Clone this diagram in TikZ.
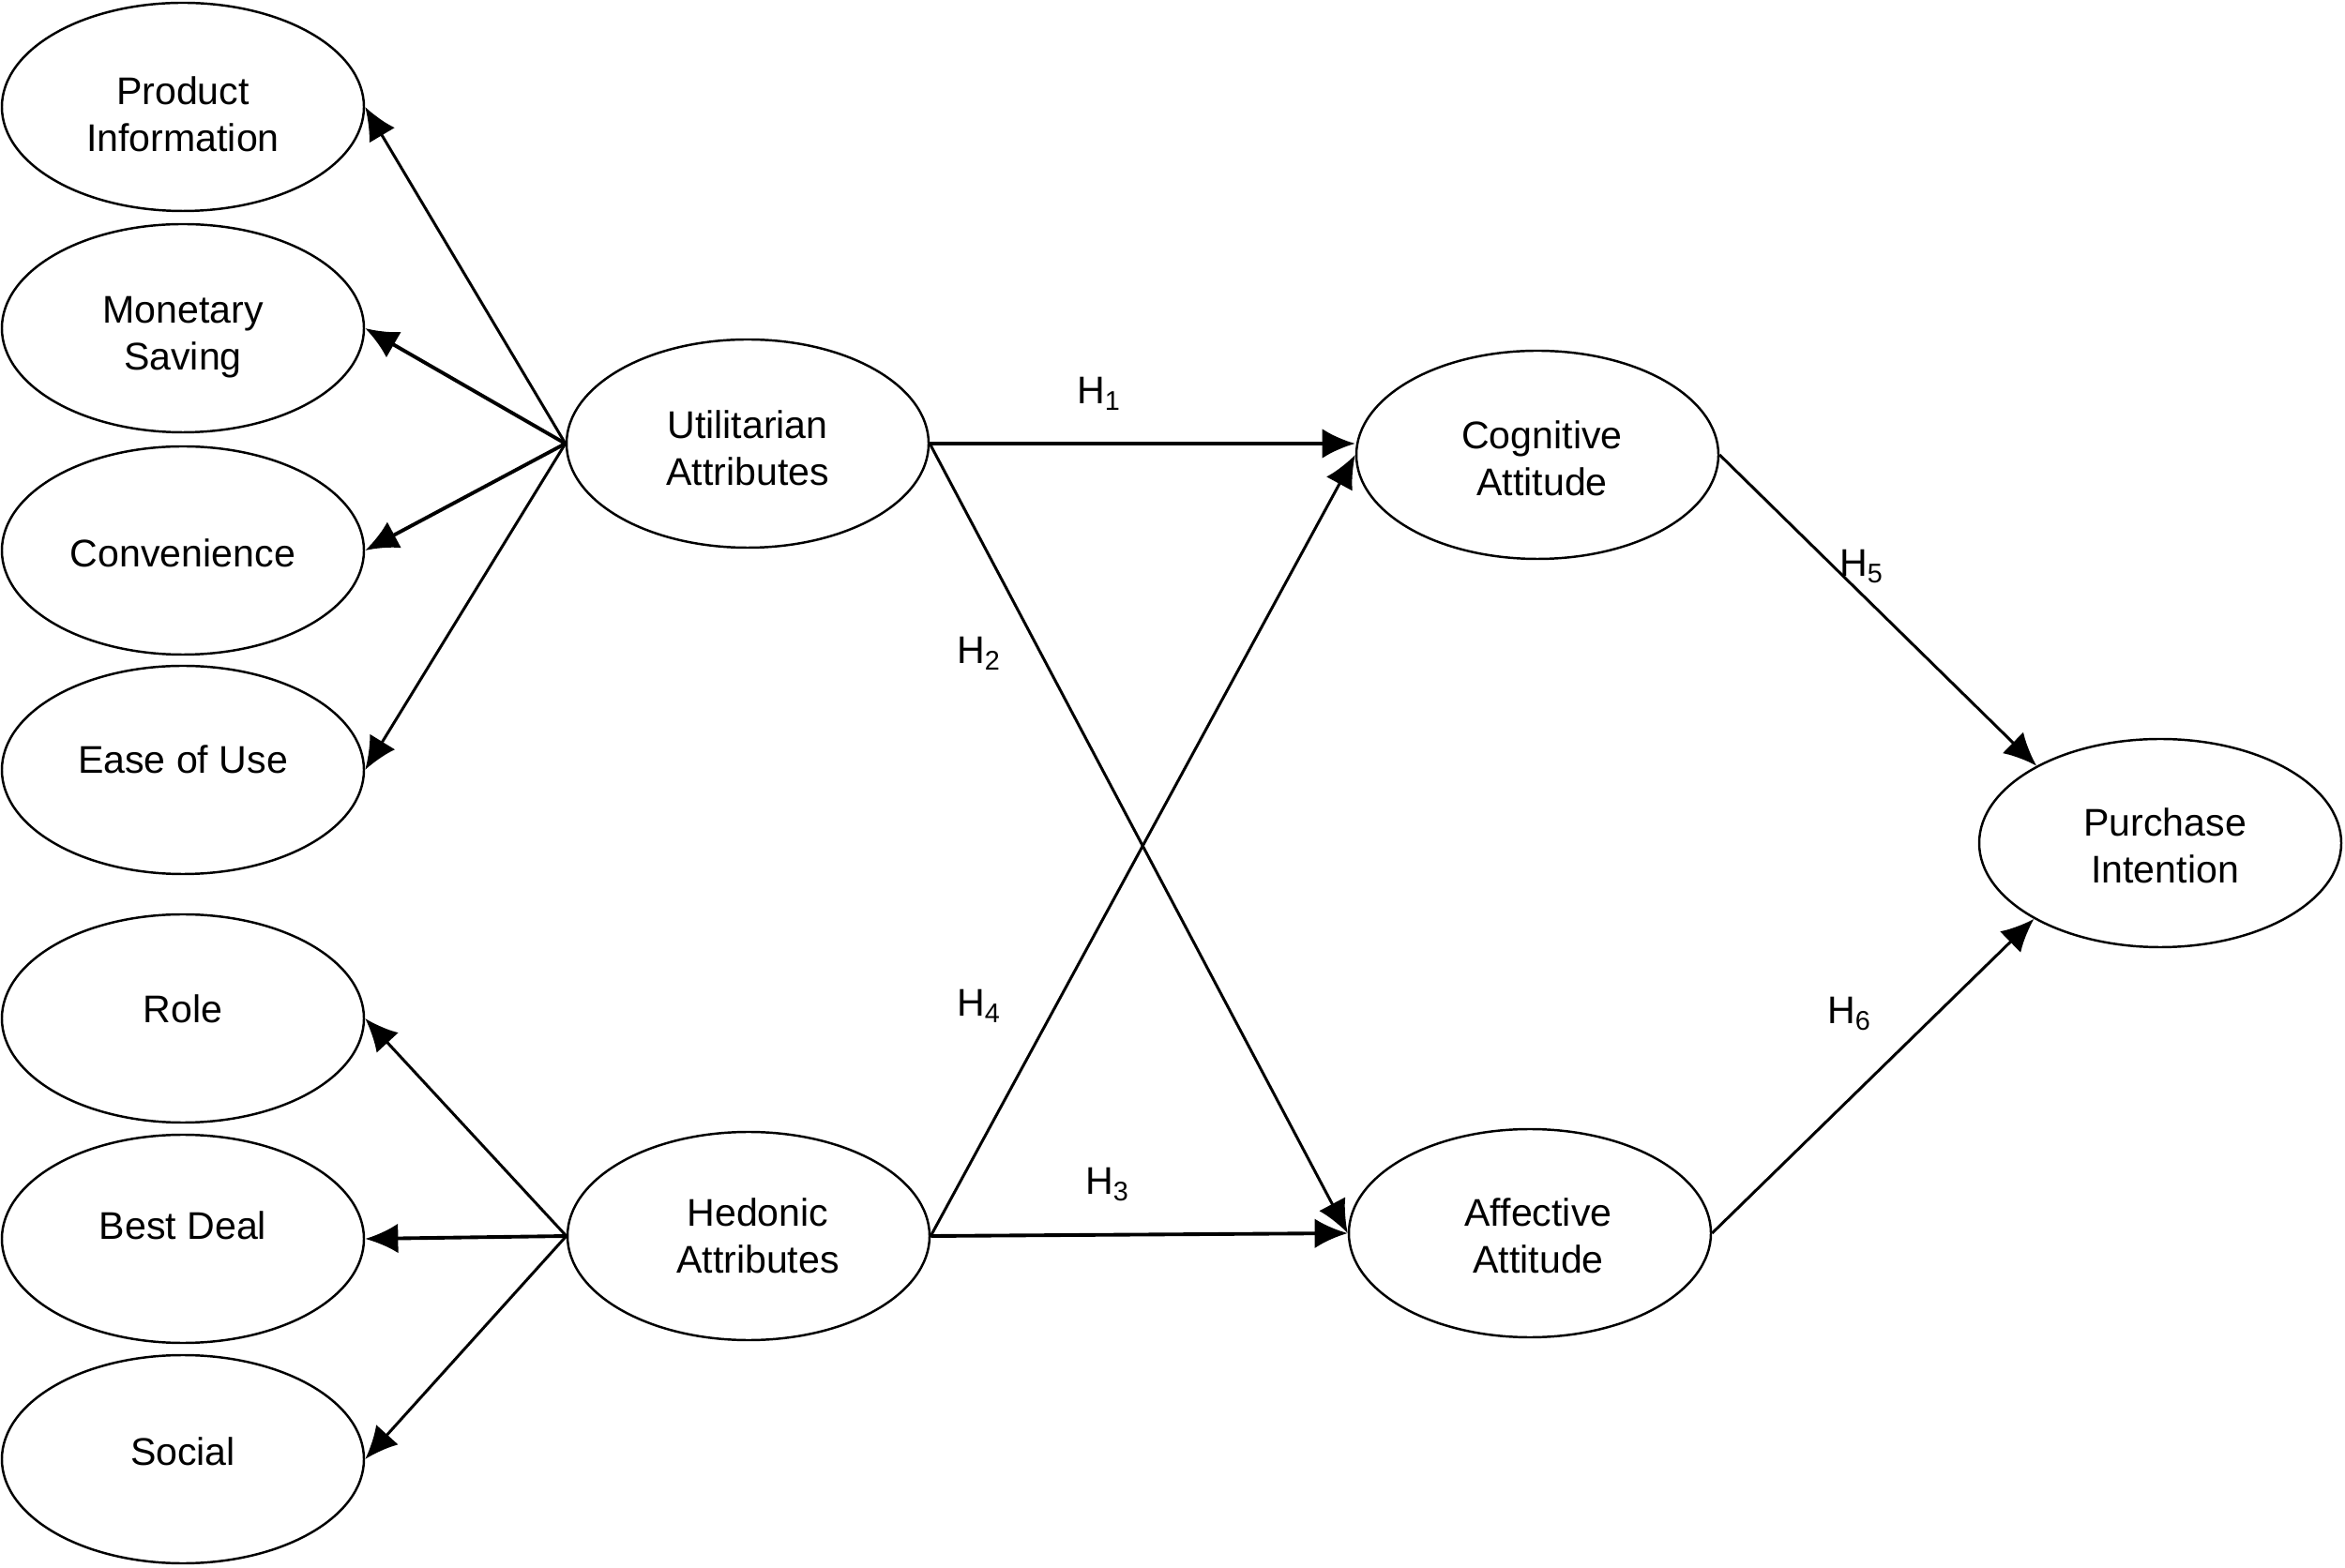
\documentclass[tikz,border=0pt]{standalone}
\usepackage{fontspec}
\setmainfont{Liberation Sans}
\usetikzlibrary{shapes.geometric,arrows.meta}
\tikzset{
  construct/.style={ellipse, draw, line width=0.7pt, minimum width=3.86cm, minimum height=2.22cm, inner sep=0pt},
  txt/.style={align=center, inner sep=0pt, font=\fontsize{11.7}{14.2}\selectfont},
  hlabel/.style={font=\fontsize{11.7}{14.2}\selectfont, inner sep=0pt},
  link/.style={line width=0.85pt, -{Latex[length=10pt,width=9pt]}},
  thicklink/.style={line width=1.1pt, -{Latex[length=10pt,width=9pt]}}
}
\begin{document}
\begin{tikzpicture}
\useasboundingbox (0,0) rectangle (25,16.71);
% left column
\node[construct] (pi) at (1.95,15.57) {};
\node[construct] (ms) at (1.95,13.21) {};
\node[construct] (cv) at (1.95,10.84) {};
\node[construct] (eu) at (1.95,8.50) {};
\node[construct] (ro) at (1.95,5.85) {};
\node[construct] (bd) at (1.95,3.50) {};
\node[construct] (so) at (1.95,1.15) {};
% middle
\node[construct] (ua) at (7.97,11.98) {};
\node[construct] (ha) at (7.98,3.53) {};
% right
\node[construct] (ca) at (16.39,11.86) {};
\node[construct] (aa) at (16.31,3.56) {};
\node[construct] (pu) at (23.03,7.72) {};
% texts
\node[txt] (piT) at ([yshift=-0.08cm]pi.center) {Product\\Information};
\node[txt] (msT) at ([yshift=-0.10cm]ms.center) {Monetary\\Saving};
\node[txt] (cvT) at ([yshift=-0.03cm]cv.center) {Convenience};
\node[txt] (euT) at ([yshift=0.11cm]eu.center) {Ease of Use};
\node[txt] (roT) at ([yshift=0.10cm]ro.center) {Role};
\node[txt] (bdT) at ([yshift=0.14cm]bd.center) {Best Deal};
\node[txt] (soT) at ([yshift=0.08cm]so.center) {Social};
\node[txt] (uaT) at ([yshift=-0.05cm]ua.center) {Utilitarian\\Attributes};
\node[txt] (haT) at ([xshift=0.10cm]ha.center) {Hedonic\\Attributes};
\node[txt] (caT) at ([xshift=0.05cm,yshift=-0.04cm]ca.center) {Cognitive\\Attitude};
\node[txt] (aaT) at ([xshift=0.09cm,yshift=-0.03cm]aa.center) {Affective\\Attitude};
\node[txt] (puT) at ([xshift=0.05cm,yshift=-0.03cm]pu.center) {Purchase\\Intention};
% formative arrows
\draw[link] (ua.west) -- (pi.east);
\draw[thicklink] (ua.west) -- (ms.east);
\draw[thicklink] (ua.west) -- (cv.east);
\draw[link] (ua.west) -- (eu.east);
\draw[link] (ha.west) -- (ro.east);
\draw[thicklink] (ha.west) -- (bd.east);
\draw[link] (ha.west) -- (so.east);
% hypotheses
\draw[thicklink] (ua.east) -- (ua.east -| ca.west);
\draw[link] (ua.east) -- (aa.west);
\draw[link] (ha.east) -- (ca.west);
\draw[thicklink] (ha.east) -- (aa.west);
\draw[link] (ca.east) -- (pu.148);
\draw[link] (aa.east) -- (pu.211);
% labels
\node[hlabel] (h1) at (11.72,12.51) {H\textsubscript{1}};
\node[hlabel] (h2) at (10.44,9.74) {H\textsubscript{2}};
\node[hlabel] (h3) at (11.81,4.08) {H\textsubscript{3}};
\node[hlabel] (h4) at (10.44,5.98) {H\textsubscript{4}};
\node[hlabel] (h5) at (19.85,10.67) {H\textsubscript{5}};
\node[hlabel] (h6) at (19.72,5.90) {H\textsubscript{6}};
\end{tikzpicture}
\end{document}
